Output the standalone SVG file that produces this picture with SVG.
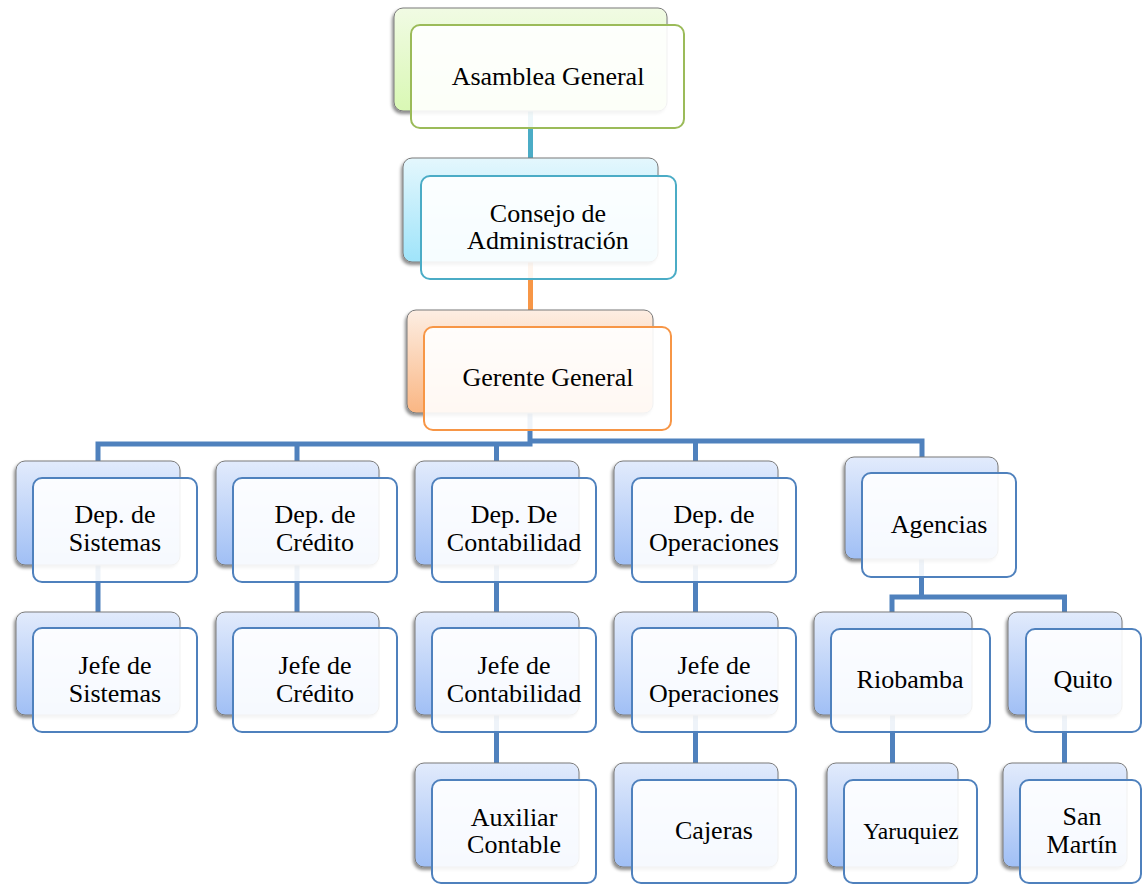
<svg xmlns="http://www.w3.org/2000/svg" width="1143" height="888" viewBox="0 0 1143 888">
<defs>
<linearGradient id="gGreen" x1="0" y1="0" x2="0" y2="1"><stop offset="0" stop-color="#f1fbe4"/><stop offset="1" stop-color="#d9f8b4"/></linearGradient>
<linearGradient id="gCyan" x1="0" y1="0" x2="0" y2="1"><stop offset="0" stop-color="#e4f7fd"/><stop offset="1" stop-color="#9fe4fa"/></linearGradient>
<linearGradient id="gOrange" x1="0" y1="0" x2="0" y2="1"><stop offset="0" stop-color="#fdeee3"/><stop offset="1" stop-color="#fab683"/></linearGradient>
<linearGradient id="gBlue" x1="0" y1="0" x2="0" y2="1"><stop offset="0" stop-color="#e2ebfc"/><stop offset="1" stop-color="#a0bff5"/></linearGradient>
<filter id="sh" x="-10%" y="-10%" width="120%" height="130%"><feDropShadow dx="-1.5" dy="2.5" stdDeviation="1.5" flood-color="#000" flood-opacity="0.45"/></filter>
</defs>
<style>
.back{stroke:#7a7a7a;stroke-width:1;filter:url(#sh)}
.front{fill:#ffffff;fill-opacity:0.9;stroke-width:2}
.fg{stroke:#9bbb59}.fc{stroke:#4bacc6}.fo{stroke:#f79646}.fb{stroke:#4f81bd}
.t{font-family:"Liberation Serif","Times New Roman",serif;font-size:26px;fill:#000;text-anchor:middle}
.c{fill:none;stroke-width:5}
</style>
<rect width="1143" height="888" fill="#ffffff"/>
<g id="connectors">
<path class="c" d="M530.5 110 V160" stroke="#4bacc6"/>
<path class="c" d="M530.5 262 V312" stroke="#f79646"/>
<g stroke="#4f81bd">
<path class="c" d="M530 412 V444 H98 V462"/>
<path class="c" d="M530 441 H922 V458"/>
<path class="c" d="M297 444 V462"/>
<path class="c" d="M496.5 443 V462"/>
<path class="c" d="M695.5 441 V462"/>
<path class="c" d="M98 564 V613"/>
<path class="c" d="M297 564 V613"/>
<path class="c" d="M496.5 564 V613"/>
<path class="c" d="M695.5 564 V613"/>
<path class="c" d="M496.5 714 V764"/>
<path class="c" d="M695.5 714 V764"/>
<path class="c" d="M921.5 558 V597 M892 613 V597 H1064.5 V613"/>
<path class="c" d="M892.5 714 V764"/>
<path class="c" d="M1064.5 714 V764"/>
</g>
</g>
<g id="asamblea">
<rect class="back" x="394" y="8" width="273" height="103" rx="9" fill="url(#gGreen)"/>
<rect class="front fg" x="411" y="25" width="273" height="103" rx="9"/>
<text class="t" x="548" y="85">Asamblea General</text>
</g>
<g id="consejo">
<rect class="back" x="403" y="158" width="255" height="104" rx="9" fill="url(#gCyan)"/>
<rect class="front fc" x="421" y="176" width="255" height="103" rx="9"/>
<text class="t" x="548" y="222">Consejo de</text>
<text class="t" x="548" y="249">Administración</text>
</g>
<g id="gerente">
<rect class="back" x="407" y="310" width="246" height="103" rx="9" fill="url(#gOrange)"/>
<rect class="front fo" x="424" y="327" width="247" height="103" rx="9"/>
<text class="t" x="548" y="386">Gerente General</text>
</g>
<g id="dep-sistemas">
<rect class="back" x="16" y="461" width="164" height="104" rx="9" fill="url(#gBlue)"/>
<rect class="front fb" x="33" y="478" width="164" height="104" rx="9"/>
<text class="t" x="115" y="523">Dep. de</text>
<text class="t" x="115" y="551">Sistemas</text>
</g>
<g id="dep-credito">
<rect class="back" x="216" y="461" width="163" height="104" rx="9" fill="url(#gBlue)"/>
<rect class="front fb" x="233" y="478" width="164" height="104" rx="9"/>
<text class="t" x="315" y="523">Dep. de</text>
<text class="t" x="315" y="551">Crédito</text>
</g>
<g id="dep-contabilidad">
<rect class="back" x="415" y="461" width="164" height="104" rx="9" fill="url(#gBlue)"/>
<rect class="front fb" x="432" y="478" width="164" height="104" rx="9"/>
<text class="t" x="514" y="523">Dep. De</text>
<text class="t" x="514" y="551">Contabilidad</text>
</g>
<g id="dep-operaciones">
<rect class="back" x="614" y="461" width="164" height="104" rx="9" fill="url(#gBlue)"/>
<rect class="front fb" x="632" y="478" width="164" height="104" rx="9"/>
<text class="t" x="714" y="523">Dep. de</text>
<text class="t" x="714" y="551">Operaciones</text>
</g>
<g id="agencias">
<rect class="back" x="845" y="457" width="153" height="102" rx="9" fill="url(#gBlue)"/>
<rect class="front fb" x="862" y="473" width="154" height="104" rx="9"/>
<text class="t" x="939" y="533">Agencias</text>
</g>
<g id="jefe-sistemas">
<rect class="back" x="16" y="612" width="164" height="103" rx="9" fill="url(#gBlue)"/>
<rect class="front fb" x="33" y="628" width="164" height="104" rx="9"/>
<text class="t" x="115" y="674">Jefe de</text>
<text class="t" x="115" y="702">Sistemas</text>
</g>
<g id="jefe-credito">
<rect class="back" x="216" y="612" width="163" height="103" rx="9" fill="url(#gBlue)"/>
<rect class="front fb" x="233" y="628" width="164" height="104" rx="9"/>
<text class="t" x="315" y="674">Jefe de</text>
<text class="t" x="315" y="702">Crédito</text>
</g>
<g id="jefe-contabilidad">
<rect class="back" x="415" y="612" width="164" height="103" rx="9" fill="url(#gBlue)"/>
<rect class="front fb" x="432" y="628" width="164" height="104" rx="9"/>
<text class="t" x="514" y="674">Jefe de</text>
<text class="t" x="514" y="702">Contabilidad</text>
</g>
<g id="jefe-operaciones">
<rect class="back" x="614" y="612" width="164" height="103" rx="9" fill="url(#gBlue)"/>
<rect class="front fb" x="632" y="628" width="164" height="104" rx="9"/>
<text class="t" x="714" y="674">Jefe de</text>
<text class="t" x="714" y="702">Operaciones</text>
</g>
<g id="riobamba">
<rect class="back" x="814" y="612" width="158" height="103" rx="9" fill="url(#gBlue)"/>
<rect class="front fb" x="831" y="629" width="159" height="103" rx="9"/>
<text class="t" x="910" y="688">Riobamba</text>
</g>
<g id="quito">
<rect class="back" x="1008" y="612" width="114" height="103" rx="9" fill="url(#gBlue)"/>
<rect class="front fb" x="1026" y="629" width="115" height="103" rx="9"/>
<text class="t" x="1083" y="688">Quito</text>
</g>
<g id="auxiliar-contable">
<rect class="back" x="415" y="763" width="164" height="104" rx="9" fill="url(#gBlue)"/>
<rect class="front fb" x="432" y="780" width="164" height="103" rx="9"/>
<text class="t" x="514" y="826">Auxiliar</text>
<text class="t" x="514" y="853">Contable</text>
</g>
<g id="cajeras">
<rect class="back" x="614" y="763" width="164" height="104" rx="9" fill="url(#gBlue)"/>
<rect class="front fb" x="632" y="780" width="164" height="103" rx="9"/>
<text class="t" x="714" y="839">Cajeras</text>
</g>
<g id="yaruquiez">
<rect class="back" x="827" y="763" width="131" height="104" rx="9" fill="url(#gBlue)"/>
<rect class="front fb" x="844" y="780" width="133" height="103" rx="9"/>
<text class="t" x="911" y="839" style="font-size:23.5px">Yaruquiez</text>
</g>
<g id="san-martin">
<rect class="back" x="1003" y="763" width="124" height="104" rx="9" fill="url(#gBlue)"/>
<rect class="front fb" x="1020" y="780" width="121" height="103" rx="9"/>
<text class="t" x="1082" y="825">San</text>
<text class="t" x="1082" y="853">Martín</text>
</g>
</svg>
